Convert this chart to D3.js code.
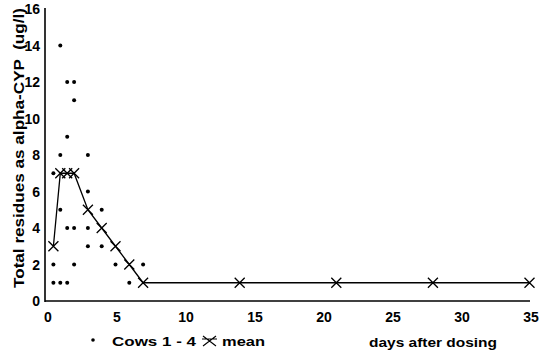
<!DOCTYPE html>
<html><head><meta charset="utf-8">
<script src="https://cdn.jsdelivr.net/npm/d3@7"></script>
<style>body{margin:0;background:#fff}text{font-family:"Liberation Sans",Arial,sans-serif;font-weight:bold;fill:#000}</style>
</head><body><svg id="c" width="539" height="355"></svg>
<script>
// Individual cow observations (days, value)
const cowDays   = [1, 1.5, 2, 2, 1.5, 1, 3, 0.5, 3, 1, 4, 1.5, 2, 3, 3, 4, 0.5, 2, 5, 7, 0.5, 1, 1.5, 6];
const cowValues = [14, 12, 12, 11, 9, 8, 8, 7, 6, 5, 5, 4, 4, 4, 3, 3, 2, 2, 2, 2, 1, 1, 1, 1];
// Mean series
const meanDays   = [0.5, 1, 1.5, 2, 3, 4, 5, 6, 7, 14, 21, 28, 35];
const meanValues = [3, 7, 7, 7, 5, 4, 3, 2, 1, 1, 1, 1, 1];
const xTicks = [0, 5, 10, 15, 20, 25, 30, 35];
const yTicks = [0, 2, 4, 6, 8, 10, 12, 14, 16];

const svg = d3.select("#c");
const x = d3.scaleLinear().domain([0, 35]).range([46.5, 529.5]);
const y = d3.scaleLinear().domain([0, 16]).range([301, 9]);

// axes lines
svg.append("line").attr("x1", 45).attr("x2", 45).attr("y1", 8).attr("y2", 302).attr("stroke", "#000").attr("stroke-width", 1.6);
svg.append("line").attr("x1", 45).attr("x2", 530).attr("y1", 301).attr("y2", 301).attr("stroke", "#000").attr("stroke-width", 1.6);

// tick labels
svg.selectAll(".yt").data(yTicks).enter().append("text")
  .attr("x", 40).attr("y", d => y(d) + 5).attr("text-anchor", "end")
  .attr("font-size", 14).text(d => d);
svg.selectAll(".xt").data(xTicks).enter().append("text")
  .attr("x", d => x(d) + 1.5).attr("y", 322).attr("text-anchor", "middle")
  .attr("font-size", 14).text(d => d);

// y title
svg.append("text").attr("transform", "translate(23.5,148) rotate(-90)")
  .attr("text-anchor", "middle").attr("font-size", 14.5)
  .attr("xml:space", "preserve").style("white-space", "pre")
  .attr("textLength", 280).attr("lengthAdjust", "spacingAndGlyphs")
  .text("Total residues as alpha-CYP  (ug/l)");

// cow dots
svg.selectAll(".dot").data(cowDays.map((d, i) => [d, cowValues[i]])).enter()
  .append("circle").attr("cx", d => x(d[0])).attr("cy", d => y(d[1])).attr("r", 2).attr("fill", "#000");

// mean line
const mean = meanDays.map((d, i) => [d, meanValues[i]]);
svg.append("path").datum(mean)
  .attr("d", d3.line().x(d => x(d[0])).y(d => y(d[1])))
  .attr("fill", "none").attr("stroke", "#000").attr("stroke-width", 1.3);

// mean markers (X)
const s = 5;
const xm = d3.path();
mean.forEach(d => {
  const cx = x(d[0]), cy = y(d[1]);
  xm.moveTo(cx - s, cy - s); xm.lineTo(cx + s, cy + s);
  xm.moveTo(cx - s, cy + s); xm.lineTo(cx + s, cy - s);
});
svg.append("path").attr("d", xm.toString()).attr("stroke", "#000").attr("stroke-width", 1.3).attr("fill", "none");

// legend
svg.append("circle").attr("cx", 93).attr("cy", 340).attr("r", 1.8).attr("fill", "#000");
svg.append("text").attr("x", 112).attr("y", 346).attr("font-size", 13)
  .attr("textLength", 84).attr("lengthAdjust", "spacingAndGlyphs").text("Cows 1 - 4");
const lm = d3.path();
lm.moveTo(203, 336); lm.lineTo(216, 346);
lm.moveTo(203, 346); lm.lineTo(216, 336);
lm.moveTo(202, 339); lm.lineTo(217, 339);
svg.append("path").attr("d", lm.toString()).attr("stroke", "#000").attr("stroke-width", 1.1).attr("fill", "none");
svg.append("text").attr("x", 222).attr("y", 346).attr("font-size", 13)
  .attr("textLength", 43).attr("lengthAdjust", "spacingAndGlyphs").text("mean");
svg.append("text").attr("x", 369).attr("y", 347).attr("font-size", 13)
  .attr("textLength", 128).attr("lengthAdjust", "spacingAndGlyphs").text("days after dosing");
</script></body></html>
